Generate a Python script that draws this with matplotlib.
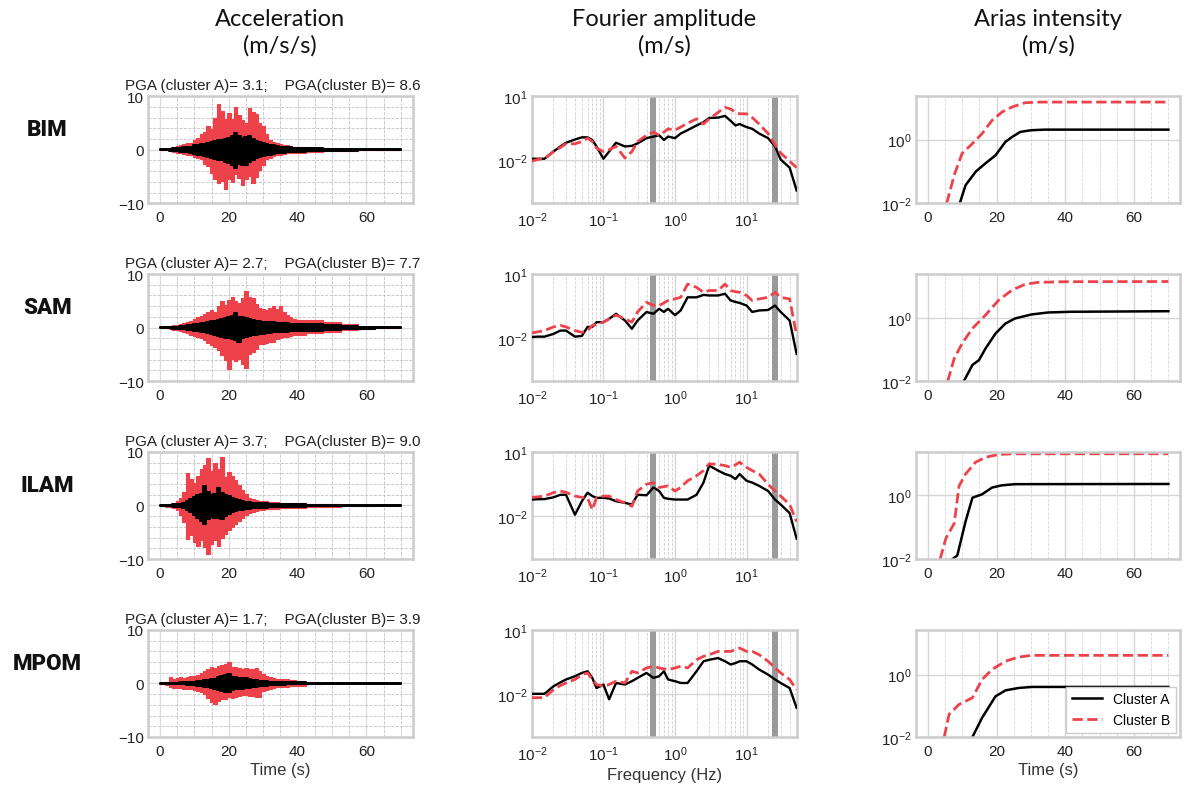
import numpy as np
import matplotlib
matplotlib.use("Agg")
import matplotlib.pyplot as plt
from matplotlib.ticker import AutoMinorLocator, LogLocator, NullLocator

# ---- data ----
stations = ["BIM", "SAM", "ILAM", "MPOM"]
pga_a = [3.1, 2.7, 3.7, 1.7]
pga_b = [8.6, 7.7, 9.0, 3.9]

# acceleration envelopes (peak values per second), one list per station
acc_t = list(range(0, 41)) + [45, 50, 55, 60, 65, 70]

acc_b_up = [
    [0, 0, 0.1, 0.4, 0.5, 0.7, 0.8, 1.0, 1.2, 1.3, 1.8, 2.2, 2.9, 3.3, 4.4, 3.8, 6.0, 8.6, 7.2, 5.7,
     6.9, 5.8, 8.0, 6.5, 5.5, 5.0, 7.8, 7.0, 6.6, 5.0, 4.4, 3.0, 1.9, 1.5, 1.2, 1.0, 0.9, 0.8, 0.7, 0.6,
     0.6, 0.4, 0.3, 0.2, 0.1, 0.0, 0.0],
    [0, 0, 0.1, 0.3, 0.4, 0.5, 0.7, 0.8, 1.0, 1.3, 1.6, 1.9, 2.1, 2.6, 2.9, 3.3, 3.0, 4.0, 4.9, 4.2,
     5.2, 5.8, 5.0, 4.6, 5.5, 6.8, 5.8, 5.5, 4.5, 3.6, 3.4, 3.3, 3.6, 4.0, 3.5, 4.0, 3.0, 2.4, 2.0, 1.6,
     1.4, 1.4, 1.0, 0.6, 0.2, 0.0, 0.0],
    [0, 0.1, 0.2, 0.3, 0.5, 0.8, 1.4, 2.5, 6.0, 5.0, 4.2, 5.5, 6.9, 7.5, 8.8, 6.5, 8.0, 6.8, 9.0, 5.4,
     6.3, 5.5, 4.8, 3.8, 2.9, 2.2, 1.4, 1.2, 1.0, 0.9, 0.8, 0.8, 0.7, 0.6, 0.6, 0.5, 0.5, 0.5, 0.4, 0.4,
     0.4, 0.3, 0.2, 0.15, 0.1, 0.0, 0.0],
    [0, 0.1, 0.3, 1.1, 0.9, 1.0, 1.1, 1.0, 1.2, 1.3, 1.4, 1.6, 1.9, 2.3, 2.6, 3.0, 2.8, 3.2, 3.4, 3.6,
     3.9, 3.0, 3.0, 2.8, 2.7, 2.9, 2.6, 2.7, 2.9, 2.4, 1.75, 1.4, 1.2, 1.0, 0.9, 0.9, 0.8, 0.8, 0.7, 0.6,
     0.5, 0.05, 0.0, 0.0, 0.0, 0.0, 0.0],
]
acc_b_lo = [
    [0, 0, -0.1, -0.3, -0.5, -0.6, -0.7, -0.8, -0.9, -0.9, -1.3, -1.6, -1.8, -2.6, -3.0, -4.3, -5.5, -6.2, -5.8, -7.4,
     -5.5, -6.0, -4.6, -5.2, -6.5, -5.5, -4.9, -6.2, -5.0, -3.7, -2.8, -1.8, -1.5, -1.2, -1.0, -0.9, -0.8, -0.7, -0.6, -0.6,
     -0.6, -0.4, -0.3, -0.2, -0.1, 0.0, 0.0],
    [0, 0, -0.1, -0.3, -0.4, -0.5, -0.7, -0.8, -1.0, -1.3, -1.5, -1.7, -1.9, -2.4, -2.8, -3.3, -3.6, -4.2, -5.2, -6.0,
     -7.7, -5.8, -6.2, -5.8, -6.8, -7.6, -5.0, -4.5, -3.9, -3.0, -3.0, -2.8, -2.6, -2.6, -2.2, -2.0, -1.8, -1.7, -1.5, -1.4,
     -1.3, -1.0, -0.8, -0.4, -0.2, 0.0, 0.0],
    [0, -0.1, -0.2, -0.3, -0.5, -0.9, -1.7, -3.0, -6.3, -5.5, -6.8, -7.5, -6.5, -7.8, -9.0, -7.2, -6.5, -7.5, -6.0, -5.3,
     -4.6, -4.1, -3.5, -2.9, -2.3, -1.7, -1.4, -1.2, -1.0, -0.9, -0.8, -0.7, -0.7, -0.6, -0.6, -0.5, -0.5, -0.5, -0.4, -0.4,
     -0.4, -0.3, -0.2, -0.15, -0.1, 0.0, 0.0],
    [0, -0.1, -0.3, -0.75, -0.8, -0.9, -0.9, -1.0, -1.0, -1.1, -1.2, -1.4, -1.7, -2.0, -2.8, -3.5, -3.9, -3.2, -2.9, -3.0,
     -2.6, -2.8, -2.6, -2.4, -2.2, -2.1, -2.3, -2.4, -2.6, -2.6, -1.4, -1.2, -1.0, -0.8, -0.75, -0.7, -0.65, -0.6, -0.55, -0.5,
     -0.5, -0.05, 0.0, 0.0, 0.0, 0.0, 0.0],
]
acc_a_up = [
    [0.05, 0.05, 0.1, 0.2, 0.3, 0.3, 0.4, 0.5, 0.5, 0.6, 0.8, 0.9, 1.0, 1.1, 1.2, 1.4, 1.6, 1.8, 1.9, 2.0,
     2.2, 2.6, 3.1, 2.5, 2.2, 2.4, 2.5, 2.0, 1.6, 1.4, 1.2, 1.0, 0.9, 0.8, 0.7, 0.6, 0.6, 0.5, 0.5, 0.4,
     0.4, 0.3, 0.2, 0.15, 0.1, 0.1, 0.1],
    [0.05, 0.05, 0.1, 0.1, 0.2, 0.2, 0.3, 0.3, 0.4, 0.5, 0.6, 0.7, 0.8, 0.9, 1.0, 1.2, 1.3, 1.4, 1.6, 1.8,
     2.0, 2.2, 2.7, 2.0, 1.9, 1.8, 1.6, 1.4, 1.3, 1.2, 1.1, 1.0, 1.0, 1.0, 0.9, 0.9, 0.8, 0.8, 0.7, 0.7,
     0.7, 0.6, 0.4, 0.3, 0.2, 0.1, 0.1],
    [0.05, 0.05, 0.1, 0.1, 0.2, 0.2, 0.3, 0.5, 0.8, 1.2, 1.6, 1.9, 2.2, 3.7, 2.5, 2.0, 2.2, 3.2, 2.4, 2.0,
     1.7, 1.4, 1.2, 1.0, 0.8, 0.7, 0.6, 0.5, 0.5, 0.4, 0.4, 0.4, 0.3, 0.3, 0.3, 0.3, 0.2, 0.2, 0.2, 0.2,
     0.2, 0.15, 0.1, 0.1, 0.1, 0.1, 0.1],
    [0.05, 0.05, 0.1, 0.1, 0.15, 0.15, 0.2, 0.2, 0.25, 0.3, 0.35, 0.4, 0.5, 0.6, 0.7, 0.8, 0.9, 1.1, 1.3, 1.5,
     1.7, 1.2, 1.1, 1.0, 1.0, 1.0, 0.8, 0.7, 0.6, 0.5, 0.5, 0.4, 0.35, 0.3, 0.3, 0.25, 0.25, 0.2, 0.2, 0.2,
     0.2, 0.15, 0.1, 0.1, 0.1, 0.1, 0.1],
]
acc_a_lo = [
    [-0.05, -0.05, -0.1, -0.2, -0.3, -0.3, -0.4, -0.5, -0.5, -0.6, -0.8, -0.9, -1.0, -1.2, -1.3, -1.5, -1.7, -1.9, -2.0, -2.2,
     -2.4, -2.8, -3.4, -2.6, -2.9, -2.8, -2.2, -1.9, -1.6, -1.3, -1.1, -1.0, -0.9, -0.8, -0.7, -0.6, -0.6, -0.5, -0.5, -0.4,
     -0.4, -0.3, -0.2, -0.15, -0.1, -0.1, -0.1],
    [-0.05, -0.05, -0.1, -0.1, -0.2, -0.2, -0.3, -0.3, -0.4, -0.5, -0.6, -0.7, -0.8, -0.9, -1.0, -1.2, -1.3, -1.5, -1.7, -1.9,
     -2.0, -2.2, -2.4, -2.7, -2.0, -1.8, -1.6, -1.4, -1.3, -1.2, -1.1, -1.0, -1.0, -0.9, -0.9, -0.8, -0.8, -0.8, -0.7, -0.7,
     -0.7, -0.6, -0.4, -0.3, -0.2, -0.1, -0.1],
    [-0.05, -0.05, -0.1, -0.1, -0.2, -0.2, -0.3, -0.5, -0.9, -1.3, -1.8, -2.3, -2.8, -3.5, -2.5, -2.2, -2.4, -2.3, -2.6, -2.0,
     -1.6, -1.3, -1.1, -0.9, -0.8, -0.7, -0.6, -0.5, -0.5, -0.4, -0.4, -0.4, -0.3, -0.3, -0.3, -0.3, -0.2, -0.2, -0.2, -0.2,
     -0.2, -0.15, -0.1, -0.1, -0.1, -0.1, -0.1],
    [-0.05, -0.05, -0.1, -0.1, -0.15, -0.15, -0.2, -0.2, -0.25, -0.3, -0.35, -0.4, -0.5, -0.6, -0.7, -0.9, -1.0, -1.2, -1.4, -1.6,
     -1.7, -1.3, -1.1, -1.0, -1.0, -0.9, -0.8, -0.7, -0.6, -0.5, -0.5, -0.4, -0.35, -0.3, -0.3, -0.25, -0.25, -0.2, -0.2, -0.2,
     -0.2, -0.15, -0.1, -0.1, -0.1, -0.1, -0.1],
]

# Fourier amplitude spectra
freq = [0.01, 0.012, 0.015, 0.02, 0.025, 0.03, 0.04, 0.05, 0.06, 0.07, 0.08, 0.1, 0.12, 0.15,
        0.2, 0.25, 0.3, 0.4, 0.5, 0.6, 0.7, 0.8, 1, 1.2, 1.5, 2, 2.5, 3, 4, 5, 6, 7, 8, 10,
        12, 15, 20, 25, 30, 40, 50]
fas_a = [
    [.012, .012, .012, .026, .045, .067, .095, .12, .12, .09, .045, .012, .026, .067, .045, .048, .063,
     .11, .13, .15, .09, .13, .11, .18, .26, .43, .61, .96, 1.0, 1.2, .7, .43, .5, .36, .3, .18, .11,
     .045, .011, .0046, .0004],
    [.0115, .012, .012, .016, .023, .023, .012, .013, .034, .034, .057, .057, .081, .14, .068, .028, .068,
     .17, .14, .24, .17, .24, .12, .2, .82, .82, 1.06, 1.0, 1.0, 1.2, .58, .5, .45, .34, .17, .2, .21,
     .34, .17, .068, .0019],
    [.06, .062, .063, .076, .1, .1, .0117, .05, .125, .087, .072, .072, .067, .05, .042, .035, .1,
     .095, .22, .15, .072, .065, .06, .06, .06, .1, .37, 2.3, 1.34, .93, .77, .54, .93, .45, .37, .26,
     .15, .06, .035, .014, .0009],
    [.0103, .0103, .0103, .023, .035, .048, .068, .097, .116, .057, .019, .028, .0057, .033, .028, .04, .057,
     .097, .057, .068, .116, .048, .04, .033, .033, .116, .34, .4, .48, .34, .24, .28, .34, .34, .24, .14,
     .081, .048, .033, .019, .0023],
]
fas_b = [
    [.0093, .011, .012, .026, .04, .06, .06, .076, .11, .076, .038, .026, .032, .045, .013, .026, .076,
     .15, .21, .15, .21, .3, .26, .36, .55, .87, .5, .87, 1.75, 3.0, 2.5, 1.75, 1.5, 1.5, 1.0, .5, .18,
     .053, .022, .0093, .0046],
    [.018, .02, .023, .034, .04, .034, .023, .019, .023, .04, .045, .057, .081, .12, .081, .057, .17,
     .48, .34, .34, .45, .58, .69, .82, 3.4, 2.4, 1.4, 1.7, 1.7, 3.4, 1.7, 1.5, 1.4, 1.0, .58, .69, .82,
     1.4, .82, .69, .014],
    [.076, .08, .087, .125, .15, .13, .087, .076, .072, .02, .072, .087, .087, .06, .042, .029, .15,
     .31, .37, .22, .24, .26, .15, .22, .45, .77, 1.34, 2.8, 2.6, 2.3, 1.9, 2.5, 3.3, 1.9, 1.34, .93,
     .31, .15, .087, .035, .0056],
    [.0068, .0068, .0068, .016, .025, .033, .048, .081, .097, .048, .028, .023, .028, .04, .033, .116, .097,
     .166, .2, .166, .15, .14, .166, .2, .166, .4, .58, .69, .98, .98, .98, 1.2, 1.4, .98, .98, .69,
     .34, .166, .097, .048, .016],
]

# Arias intensity
arias_t_a = [
    [9.3, 11, 14, 16.8, 19.7, 22.6, 24.5, 26.9, 30, 34, 70],
    [10.5, 13, 14.9, 16.8, 19.7, 22.6, 25.4, 30.2, 35, 41.7, 70],
    [7.2, 8.6, 11, 13, 15.8, 18.7, 21.6, 25.4, 70],
    [13, 15.8, 19.7, 22.6, 26.4, 30.2, 70],
]
arias_a = [
    [0.01, 0.037, 0.1, 0.18, 0.32, 0.85, 1.2, 1.74, 1.96, 2.05, 2.05],
    [0.01, 0.033, 0.047, 0.11, 0.33, 0.69, 1.0, 1.34, 1.55, 1.63, 1.7],
    [0.01, 0.013, 0.15, 0.82, 1.05, 1.7, 2.0, 2.17, 2.2],
    [0.01, 0.041, 0.2, 0.31, 0.37, 0.4, 0.4],
]
arias_t_b = [
    [5.5, 7.7, 10, 13, 15.8, 18.7, 21.6, 24.5, 28.3, 32, 70],
    [5.8, 7.7, 10, 13, 16.8, 20.6, 24.5, 28.3, 32, 40, 70],
    [3.6, 5.3, 7.7, 9.1, 11, 13.9, 16.8, 20.6, 24.5, 70],
    [4.8, 6.2, 9.1, 13, 15.8, 18.7, 22.6, 26.4, 30.2, 70],
]
arias_b = [
    [0.01, 0.077, 0.37, 0.75, 1.54, 4.0, 7.3, 10.5, 14.3, 15, 15],
    [0.01, 0.053, 0.16, 0.48, 1.28, 3.8, 8.0, 12.2, 14.1, 14.8, 15],
    [0.01, 0.045, 0.13, 1.9, 4.5, 10.5, 15, 18.3, 19.2, 19.3],
    [0.01, 0.053, 0.11, 0.18, 0.69, 1.44, 2.66, 3.6, 4.1, 4.1],
]
arias_ytop = [23, 26, 22, 27]

RED = "#ee424b"
plt.rcParams.update({
    "font.family": ["Liberation Sans", "DejaVu Sans"],
    "mathtext.default": "regular",
    "axes.edgecolor": "#cccccc",
    "axes.linewidth": 1.8,
    "xtick.major.size": 0,
    "ytick.major.size": 0,
    "xtick.minor.size": 0,
    "ytick.minor.size": 0,
    "xtick.major.pad": 5,
    "ytick.major.pad": 3,
    "xtick.labelsize": 11,
    "ytick.labelsize": 11,
    "xtick.color": "#222222",
    "ytick.color": "#222222",
})

fig = plt.figure(figsize=(11.84, 8.03), dpi=100)
gs = fig.add_gridspec(4, 3, left=0.125, right=0.997, top=0.879, bottom=0.081,
                      wspace=0.45, hspace=0.66)

for i in range(4):
    # acceleration
    ax = fig.add_subplot(gs[i, 0])
    ax.fill_between(acc_t, acc_b_lo[i], acc_b_up[i], step="mid",
                    facecolor=RED, edgecolor=RED, lw=0.8)
    ax.fill_between(acc_t, acc_a_lo[i], acc_a_up[i], step="mid",
                    facecolor="black", edgecolor="black", lw=1.4)
    ax.set_xlim(-3.5, 73.5)
    ax.set_ylim(-10, 10)
    ax.set_xticks([0, 20, 40, 60])
    ax.set_yticks([-10, 0, 10])
    ax.xaxis.set_minor_locator(AutoMinorLocator(4))
    ax.yaxis.set_minor_locator(AutoMinorLocator(5))
    ax.grid(which="major", color="#dadada", lw=0.9)
    ax.grid(which="minor", color="#c2c2c2", ls="--", lw=0.6)
    ax.set_axisbelow(True)
    ax.text(-0.087, 1.035, "PGA (cluster A)= %.1f;    PGA(cluster B)= %.1f" % (pga_a[i], pga_b[i]),
            transform=ax.transAxes, ha="left", va="bottom", fontsize=11, color="#222222")
    if i == 3:
        ax.set_xlabel("Time (s)", fontsize=12, color="#333333", labelpad=3)

    # Fourier amplitude
    ax = fig.add_subplot(gs[i, 1])
    ax.plot(freq, fas_a[i], color="black", lw=1.7, zorder=3)
    ax.plot(freq, fas_b[i], color=RED, ls="--", lw=2.0, zorder=3)
    ax.axvline(0.5, color="#9a9a9a", lw=4.3, zorder=2)
    ax.axvline(25, color="#9a9a9a", lw=4.3, zorder=2)
    ax.set_xscale("log")
    ax.set_yscale("log")
    ax.set_xlim(0.01, 50)
    ax.set_ylim(1e-4, 10)
    ax.set_xticks([1e-2, 1e-1, 1e0, 1e1])
    ax.set_yticks([1e-2, 1e1])
    ax.xaxis.set_minor_locator(LogLocator(base=10, subs=np.arange(2, 10)))
    ax.yaxis.set_minor_locator(NullLocator())
    ax.grid(which="major", color="#d6d6d6", lw=1.0)
    ax.grid(which="minor", axis="x", color="#d0d0d0", ls="--", lw=0.6)
    ax.set_axisbelow(True)
    if i == 3:
        ax.set_xlabel("Frequency (Hz)", fontsize=12, color="#333333", labelpad=3)

    # Arias intensity
    ax = fig.add_subplot(gs[i, 2])
    ax.plot(arias_t_a[i], arias_a[i], color="black", lw=1.8, label="Cluster A")
    ax.plot(arias_t_b[i], arias_b[i], color=RED, ls="--", lw=2.0, label="Cluster B")
    ax.set_yscale("log")
    ax.set_xlim(-3.5, 73.5)
    ax.set_ylim(1e-2, arias_ytop[i])
    ax.set_xticks([0, 20, 40, 60])
    ax.set_yticks([1e-2, 1e0])
    ax.xaxis.set_minor_locator(AutoMinorLocator(4))
    ax.yaxis.set_minor_locator(NullLocator())
    ax.grid(which="major", color="#d6d6d6", lw=1.0)
    ax.grid(which="minor", axis="x", color="#d6d6d6", ls="--", lw=0.6)
    ax.set_axisbelow(True)
    if i == 3:
        ax.set_xlabel("Time (s)", fontsize=12, color="#333333", labelpad=3)
        leg = ax.legend(loc="lower right", fontsize=10, frameon=True, fancybox=False,
                        borderaxespad=0.3, handlelength=2.2, framealpha=1)
        leg.get_frame().set_edgecolor("#cccccc")

    # station label
    yc = ax.get_position().y0 + ax.get_position().height * 0.69
    fig.text(0.040, yc, stations[i], ha="center", va="center", fontsize=16,
             fontweight="heavy", family=["Roboto", "DejaVu Sans"], color="#111111")

titles = ["Acceleration\n(m/s/s)", "Fourier amplitude\n(m/s)", "Arias intensity\n(m/s)"]
for j, title in enumerate(titles):
    cell = gs[0, j].get_position(fig)
    fig.text((cell.x0 + cell.x1) / 2, 0.989, title, ha="center", va="top", fontsize=17,
             linespacing=1.3, family=["Lato", "DejaVu Sans"], color="#111111")

fig.savefig("out.png", dpi=100)
